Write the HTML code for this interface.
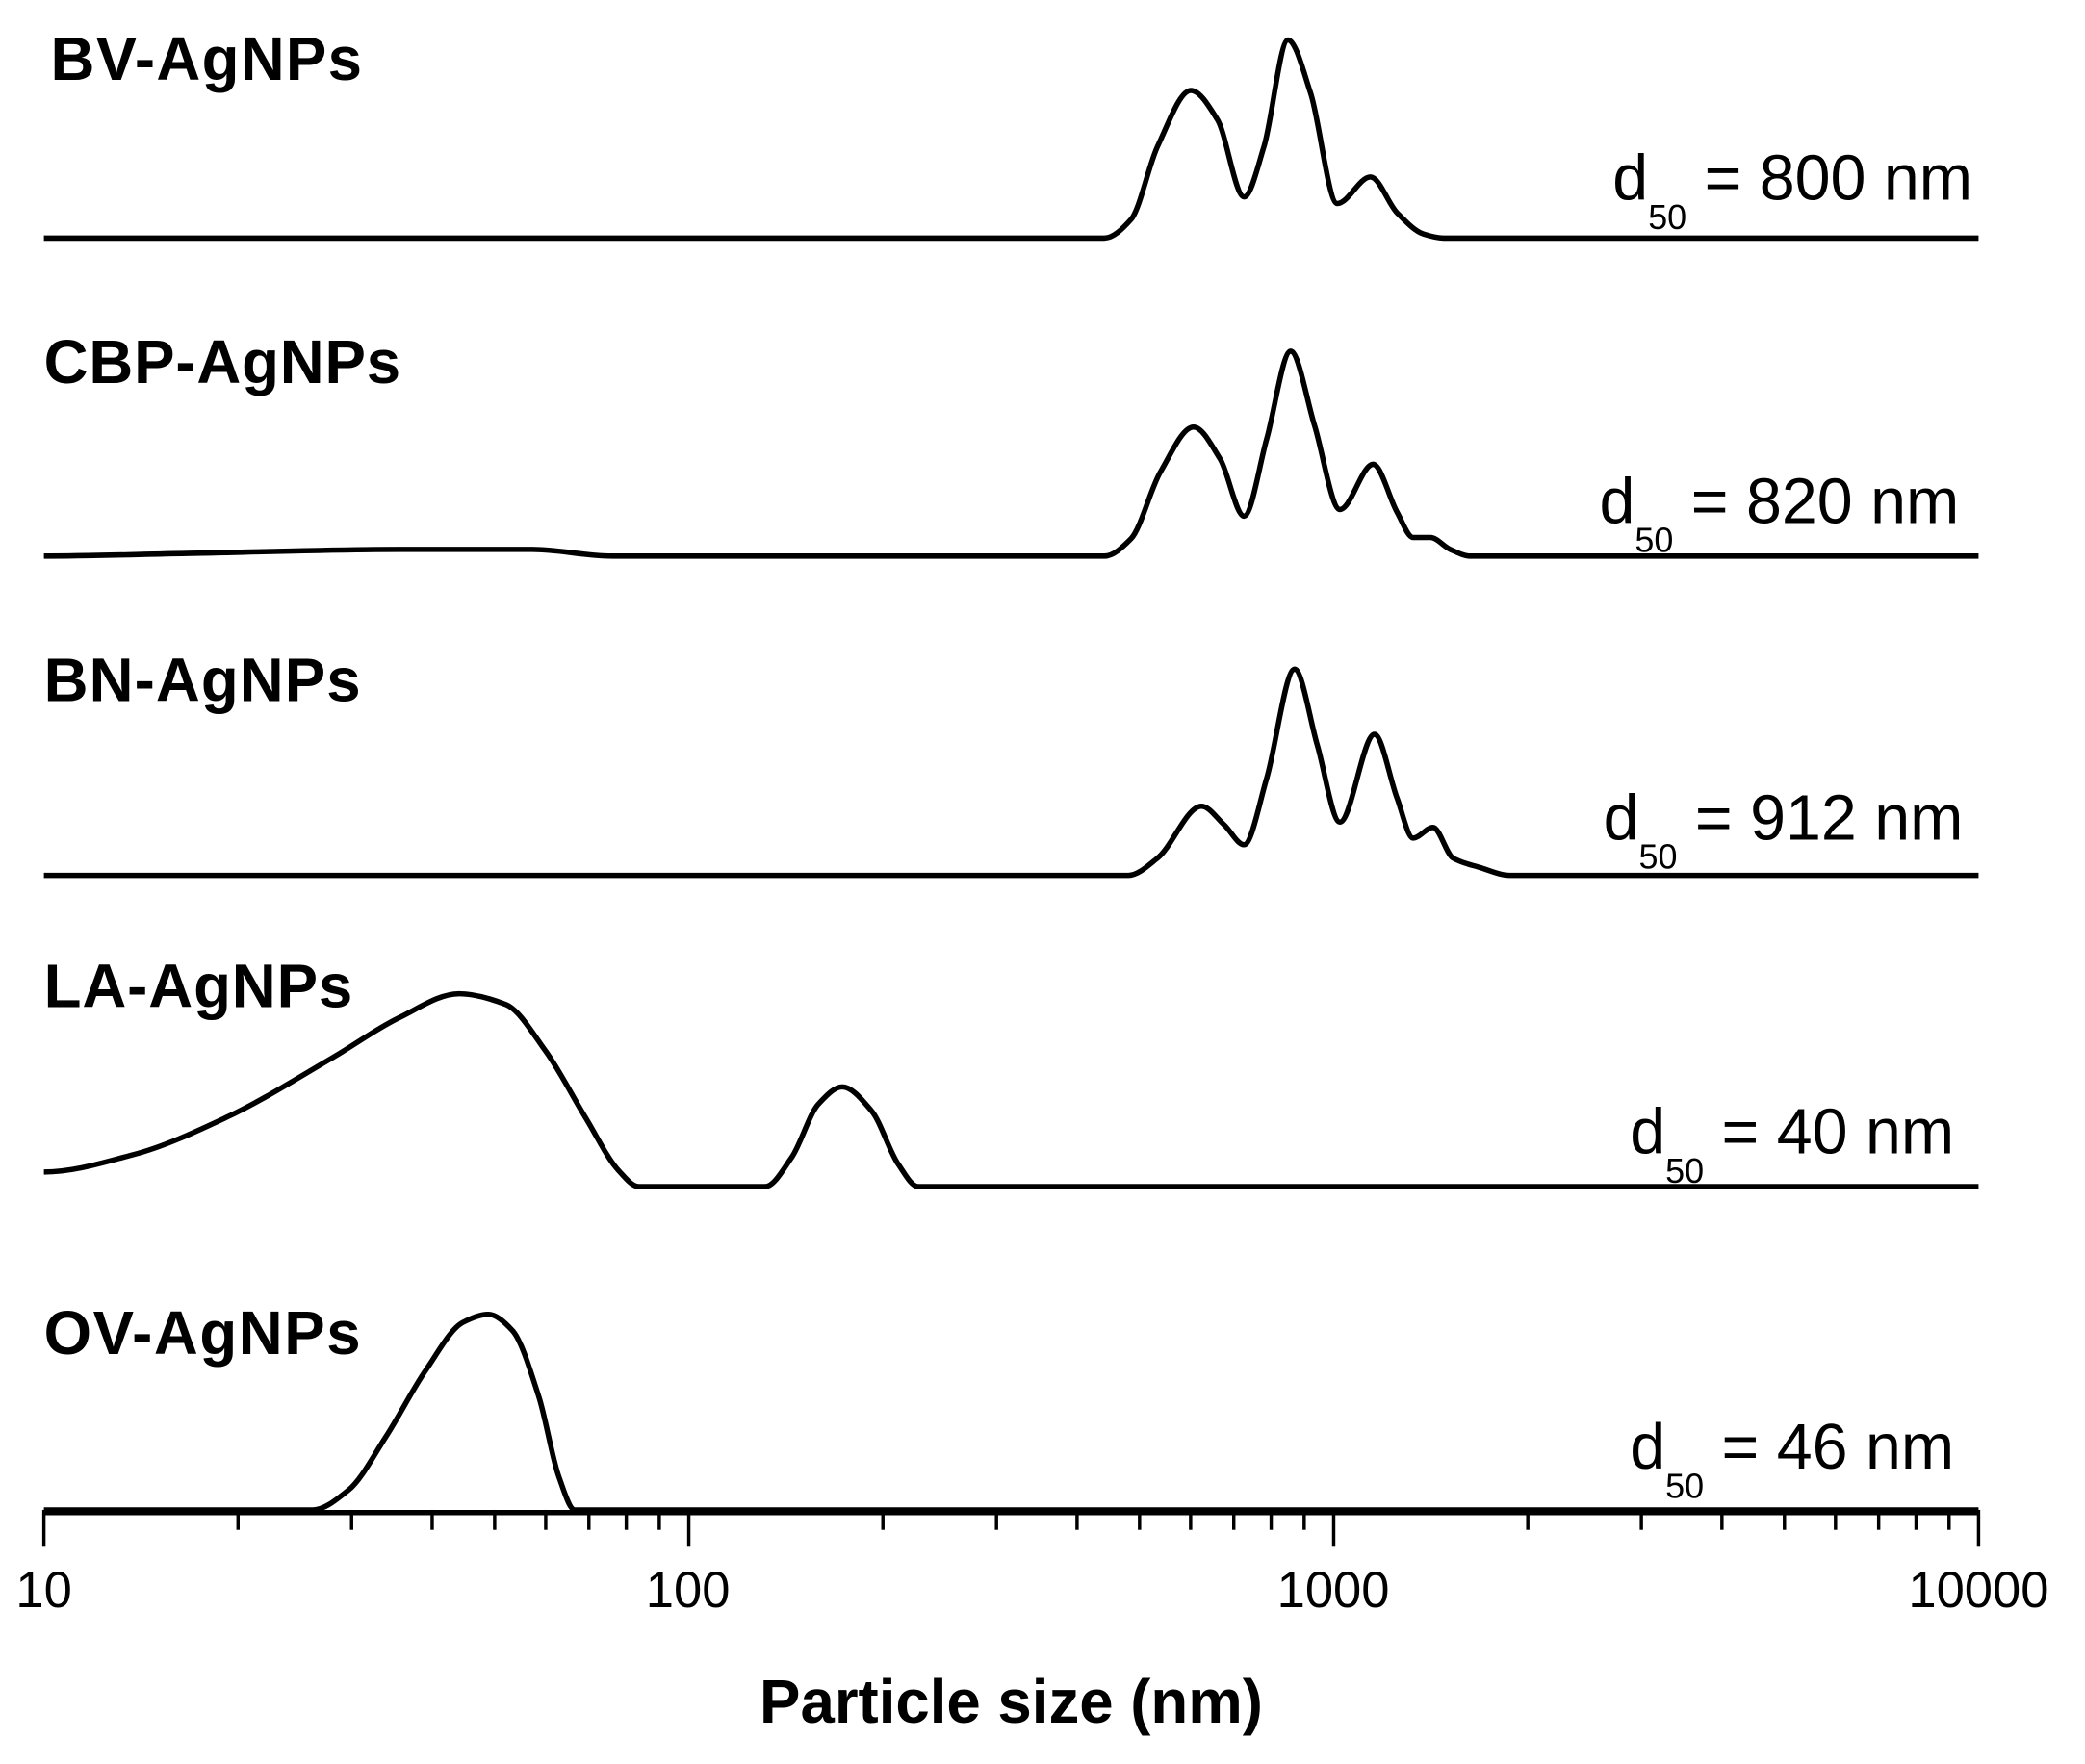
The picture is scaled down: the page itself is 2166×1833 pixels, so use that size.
<!DOCTYPE html>
<html><head><meta charset="utf-8"><style>html,body{margin:0;padding:0;background:#fff}svg{display:block}</style></head>
<body>
<svg id="s" width="2166" height="1833" viewBox="0 0 1567 1326" preserveAspectRatio="none" xmlns="http://www.w3.org/2000/svg" font-family="Liberation Sans, Arial, sans-serif">
<g font-weight="bold" font-size="46" fill="#000">
<text x="38" y="60" textLength="234">BV-AgNPs</text>
<text x="33" y="288" textLength="268">CBP-AgNPs</text>
<text x="33" y="527" textLength="238">BN-AgNPs</text>
<text x="33" y="757" textLength="232">LA-AgNPs</text>
<text x="33" y="1018" textLength="238">OV-AgNPs</text>
</g>
<g font-size="48" fill="#000">
<text x="1212" y="150">d<tspan font-size="26" dy="22">50</tspan><tspan dy="-22"> = 800 nm</tspan></text>
<text x="1202" y="393">d<tspan font-size="26" dy="22">50</tspan><tspan dy="-22"> = 820 nm</tspan></text>
<text x="1205" y="631">d<tspan font-size="26" dy="22">50</tspan><tspan dy="-22"> = 912 nm</tspan></text>
<text x="1225" y="867">d<tspan font-size="26" dy="22">50</tspan><tspan dy="-22"> = 40 nm</tspan></text>
<text x="1225" y="1104">d<tspan font-size="26" dy="22">50</tspan><tspan dy="-22"> = 46 nm</tspan></text>
</g>
<g font-size="38" fill="#000" text-anchor="middle">
<text x="33" y="1208">10</text>
<text x="517" y="1208">100</text>
<text x="1002" y="1208">1000</text>
<text x="1487" y="1208">10000</text>
</g>
<text x="760" y="1295" font-size="46" font-weight="bold" text-anchor="middle">Particle size (nm)</text>
<g id="ticks" stroke="#000" stroke-width="2.5"></g>
<g id="curves" fill="none" stroke="#000" stroke-width="4" stroke-linejoin="round"></g>
</svg>
<script>
function X(d){return 33+484.67*Math.log10(d/10);}
var h='<line x1="33" y1="1137" x2="1487" y2="1137" stroke-width="4"/>';
for(var e=1;e<=4;e++){for(var m=1;m<10;m++){var d=m*Math.pow(10,e);if(d>10000)break;var x=X(d);h+='<line x1="'+x+'" y1="1135" x2="'+x+'" y2="'+(m==1?1162:1150)+'"/>';}}
document.getElementById('ticks').innerHTML=h;
var S=[
[[33,179],[830,179],[850,165],[870,110],[895,68],[915,90],[935,148],[950,110],[968,30],[985,70],[1005,153],[1030,133],[1050,160],[1070,176],[1085,179],[1487,179]],
[[33,418],[140,416],[300,413],[400,413],[460,418],[830,418],[850,405],[872,355],[897,321],[917,345],[935,388],[952,330],[970,264],[988,320],[1007,383],[1032,349],[1050,385],[1062,404],[1075,404],[1090,413],[1105,418],[1487,418]],
[[33,658],[848,658],[870,645],[903,606],[920,620],[935,635],[952,585],[973,503],[990,560],[1007,618],[1033,552],[1050,600],[1062,630],[1077,622],[1092,645],[1112,652],[1135,658],[1487,658]],
[[33,881],[100,868],[170,840],[250,795],[300,765],[345,747],[380,755],[410,790],[440,840],[465,880],[480,892],[575,892],[595,870],[615,830],[633,817],[655,835],[675,875],[690,892],[1487,892]],
[[33,1135],[235,1135],[262,1120],[290,1080],[320,1030],[348,994],[367,988],[385,1000],[405,1050],[420,1110],[432,1135],[1487,1135]]
];
function slope(p,i){
 var a=p[i-1],b=p[i+1];if(!a||!b)return 0;
 if(a[1]==p[i][1]||b[1]==p[i][1])return 0;
 var s1=(p[i][1]-a[1])/(p[i][0]-a[0]),s2=(b[1]-p[i][1])/(b[0]-p[i][0]);
 if(s1*s2<=0)return 0;
 return 2/(1/s1+1/s2);}
var out='';
S.forEach(function(p){var d='M'+p[0][0]+','+p[0][1];
for(var i=0;i<p.length-1;i++){var p1=p[i],p2=p[i+1],dx=(p2[0]-p1[0])/3,s1=slope(p,i),s2=slope(p,i+1);
 d+=' C'+(p1[0]+dx)+','+(p1[1]+s1*dx)+' '+(p2[0]-dx)+','+(p2[1]-s2*dx)+' '+p2[0]+','+p2[1];}
out+='<path d="'+d+'"/>';});
document.getElementById('curves').innerHTML=out;
</script>
</body></html>
